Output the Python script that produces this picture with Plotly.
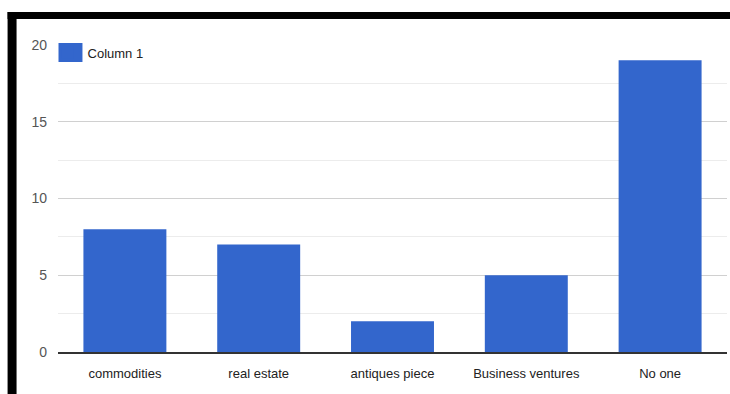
import plotly.graph_objects as go

categories = ["commodities", "real estate", "antiques piece", "Business ventures", "No one"]
values = [8, 7, 2, 5, 19]
series_name = "Column 1"
y_ticks = [0, 5, 10, 15, 20]

W, H = 730, 394
L, R, T, B = 57.5, 2.5, 45, 42
pw, ph = W - L - R, H - T - B

def px(x):
    return (x - L) / pw

def py(y):
    return (H - B - y) / ph

BAR_COLOR = "#3366cc"

fig = go.Figure()
fig.add_trace(go.Bar(
    x=categories, y=values, name=series_name,
    marker=dict(color=BAR_COLOR, line=dict(color=BAR_COLOR, width=0)),
    showlegend=True,
))

font_family = "Liberation Sans, Arial, sans-serif"

fig.update_layout(
    width=W, height=H,
    margin=dict(l=L, r=R, t=T, b=B, pad=0),
    paper_bgcolor="white", plot_bgcolor="white",
    font=dict(family=font_family, size=13, color="#444"),
    bargap=0.38,
    legend=dict(x=px(47), y=py(52.5), xanchor="left", yanchor="middle",
                bgcolor="rgba(0,0,0,0)", font=dict(size=13, color="#222"),
                itemwidth=30),
    xaxis=dict(showgrid=False, showline=True, linecolor="#333", linewidth=1.5,
               ticks="", ticklabelstandoff=9, tickfont=dict(size=13, color="#222")),
    yaxis=dict(range=[0, 20], tickvals=y_ticks, showgrid=True, gridcolor="#d0d0d0",
               gridwidth=1, zeroline=False, ticks="", ticklabelstandoff=10,
               minor=dict(dtick=2.5, showgrid=True, gridcolor="#ececec", gridwidth=1),
               tickfont=dict(size=14, color="#555")),
    shapes=[
        # legend backdrop and enlarged swatch
        dict(type="rect", xref="paper", yref="paper",
             x0=px(57), x1=px(146), y0=py(63), y1=py(42),
             fillcolor="white", line=dict(width=0), layer="above"),
        dict(type="rect", xref="paper", yref="paper",
             x0=px(58), x1=px(82), y0=py(62), y1=py(43),
             fillcolor=BAR_COLOR, line=dict(width=0), layer="above"),
        # black frame edges
        dict(type="rect", xref="paper", yref="paper",
             x0=px(7), x1=px(740), y0=py(19), y1=py(12),
             fillcolor="black", line=dict(width=0), layer="above"),
        dict(type="rect", xref="paper", yref="paper",
             x0=px(7), x1=px(16), y0=py(400), y1=py(12),
             fillcolor="black", line=dict(width=0), layer="above"),
    ],
)

fig.write_html("out.html", config={"displayModeBar": False},
               post_script="document.body.style.margin='0';")
